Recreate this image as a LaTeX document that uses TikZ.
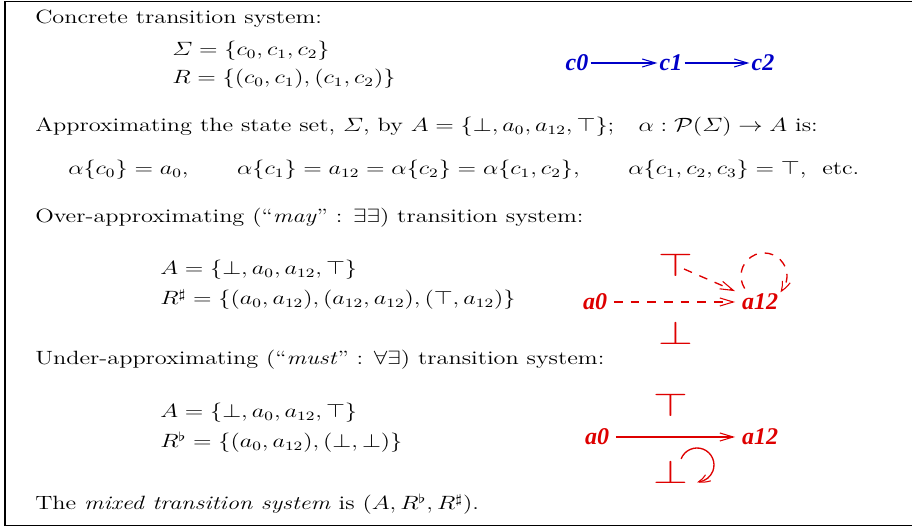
\documentclass[12pt,tikz,border=0pt]{standalone}
\usepackage{amsmath}
\usepackage[no-math]{fontspec}
\usetikzlibrary{arrows.meta,bending,calc}
\newfontfamily\labfont{Liberation Serif}
\definecolor{xred}{RGB}{222,0,0}
\definecolor{xblue}{RGB}{0,0,200}
\newcommand\stx[1]{\scalebox{1.52}[1.2]{#1}}
\tikzset{
  txt/.style={anchor=base west,inner sep=0pt},
  blab/.style={text=xblue,font=\labfont\fontsize{18}{18}\selectfont\bfseries\itshape,inner sep=1.5pt},
  rlab/.style={text=xred,font=\labfont\fontsize{18}{18}\selectfont\bfseries\itshape,inner sep=5pt},
  tb/.style={text=xred,inner sep=0pt,font=\fontsize{27}{27}\selectfont},
  vtip/.style={-{Straight Barb[length=10pt,width=6pt,line width=0.8pt]}},
  looptip/.style={-{Straight Barb[length=8pt,width=6pt,line width=0.8pt,bend]}},
  barrow/.style={draw=xblue,line width=1pt,vtip},
  rarrow/.style={draw=xred,line width=1pt,vtip},
  mayarrow/.style={rarrow,dash pattern=on 6.5pt off 6pt},
}
\begin{document}
\begin{tikzpicture}[x=0.75pt,y=0.75pt]
\useasboundingbox (0,0) rectangle (912,527);
\draw[line width=1pt] (5,1.5) rectangle (916,525.5);
% text
\node[txt] (t1) at (35,503) {\stx{Concrete transition system:}};
\node[txt] (t2) at (172,471) {\stx{$\varSigma = \{c_0, c_1, c_2\}$}};
\node[txt] (t3) at (172,443) {\stx{$R = \{(c_0, c_1), (c_1, c_2)\}$}};
\node[txt] (t4) at (35,395) {\stx{Approximating the state set, $\varSigma$, by $A = \{\bot, a_0, a_{12}, \top\}$;\quad $\alpha : \mathcal{P}(\varSigma) \rightarrow A$ is:}};
\node[txt] (t5) at (68,352) {\stx{$\alpha\{c_0\} = a_0$,\qquad $\alpha\{c_1\} = a_{12} = \alpha\{c_2\} = \alpha\{c_1, c_2\}$,\qquad $\alpha\{c_1, c_2, c_3\} = \top$,\ \ etc.}};
\node[txt] (t6) at (35,304) {\stx{Over-approximating (``\textit{may}'' : $\exists\exists$) transition system:}};
\node[txt] (t7) at (160,252) {\stx{$A = \{\bot, a_0, a_{12}, \top\}$}};
\node[txt] (t8) at (160,222) {\stx{$R^\sharp = \{(a_0, a_{12}), (a_{12}, a_{12}), (\top, a_{12})\}$}};
\node[txt] (t9) at (35,162) {\stx{Under-approximating (``\textit{must}'' : $\forall\exists$) transition system:}};
\node[txt] (t10) at (160,109) {\stx{$A = \{\bot, a_0, a_{12}, \top\}$}};
\node[txt] (t11) at (160,79) {\stx{$R^\flat = \{(a_0, a_{12}), (\bot, \bot)\}$}};
\node[txt] (t12) at (35,17) {\stx{The \textit{mixed transition system} is $(A, R^\flat, R^\sharp)$.}};
% concrete
\node[blab] (c0) at (577,464) {c0};
\node[blab] (c1) at (671,464) {c1};
\node[blab] (c2) at (763,464) {c2};
\draw[barrow] (c0) -- (c1);
\draw[barrow] (c1) -- (c2);
% may
\node[tb] (top1) at (675.5,262.5) {\scalebox{1.35}[1]{$\top$}};
\node[tb] (bot1) at (675.5,194.5) {\scalebox{1.35}[1]{$\bot$}};
\node[rlab] (a0m) at (595,225) {a0};
\node[rlab] (a12m) at (760,225) {a12};
\draw[mayarrow] (a0m) -- (a12m);
\coordinate (d1) at (684,258);
\draw[mayarrow] (d1) -- (a12m);
\coordinate (l1) at (744.7,238.5);
\draw[mayarrow,looptip] (l1) arc[start angle=213,end angle=-45,radius=23];
% must
\node[tb] (top2) at (671,122) {\scalebox{1.35}[1]{$\top$}};
\node[tb] (bot2) at (671,55) {\scalebox{1.35}[1]{$\bot$}};
\node[rlab] (a0u) at (597,90) {a0};
\node[rlab] (a12u) at (760,90) {a12};
\draw[rarrow] (a0u) -- (a12u);
\coordinate (l2) at (681.1,68.1);
\draw[rarrow,looptip] (l2) arc[start angle=159,end angle=-90,radius=17];
\end{tikzpicture}
\end{document}
